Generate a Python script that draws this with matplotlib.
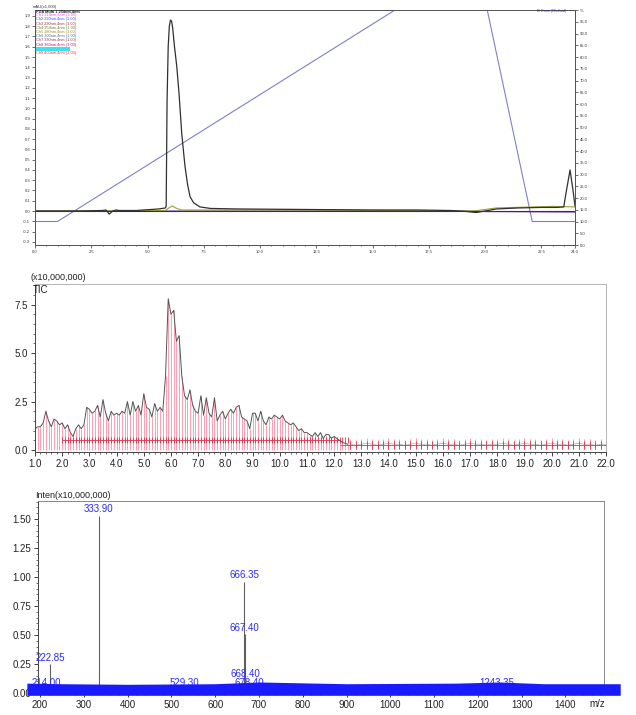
import numpy as np
import matplotlib
matplotlib.use("Agg")
import matplotlib.pyplot as plt
from matplotlib.ticker import MultipleLocator

plt.rcParams['font.family'] = ['Liberation Sans', 'DejaVu Sans']

# ---------------- Top panel: PDA chromatogram ----------------
lc_time = [0.0, 1.0, 2.0, 3.0, 3.15, 3.3, 3.45, 3.6, 3.75, 4.5, 5.5, 5.8, 5.83, 5.87, 5.92,
           5.97, 6.02, 6.07, 6.12, 6.2, 6.3, 6.4, 6.52, 6.6, 6.67, 6.78, 6.89, 7.05, 7.33,
           7.8, 9.0, 12.0, 15.0, 17.0, 18.5, 19.2, 19.6, 20.0, 20.5, 21.5, 22.5, 23.2, 23.5,
           23.62, 23.78, 23.9, 24.0]
lc_main = [0.0, 0.0, 0.0, 0.005, 0.01, -0.03, 0.0, 0.01, 0.005, 0.005, 0.02, 0.03, 0.05,
           1.08, 1.6, 1.8, 1.86, 1.85, 1.78, 1.6, 1.41, 1.15, 0.76, 0.58, 0.43, 0.26, 0.14,
           0.08, 0.04, 0.025, 0.02, 0.015, 0.01, 0.01, 0.005, -0.005, -0.015, 0.0, 0.02,
           0.03, 0.035, 0.035, 0.04, 0.2, 0.4, 0.22, 0.05]
lc2_time = [0.0, 5.8, 5.95, 6.1, 6.25, 6.5, 12.0, 19.5, 20.5, 23.0, 24.0]
lc2_vals = [0.0, 0.005, 0.03, 0.05, 0.03, 0.01, 0.01, 0.0, 0.03, 0.045, 0.04]
lc3_time = [0.0, 19.0, 20.0, 24.0]
lc3_vals = [0.0, 0.0, -0.005, -0.01]
grad_time = [0.0, 1.0, 16.0, 20.1, 22.1, 24.0]
grad_b = [10, 10, 100, 100, 10, 10]
lc_xticks = [0.0, 2.5, 5.0, 7.5, 10.0, 12.5, 15.0, 17.5, 20.0, 22.5, 24.0]
lc_yticks = [-0.3, -0.2, -0.1, 0.0, 0.1, 0.2, 0.3, 0.4, 0.5, 0.6, 0.7, 0.8, 0.9, 1.0,
             1.1, 1.2, 1.3, 1.4, 1.5, 1.6, 1.7, 1.8, 1.9]
pct_ticks = [0, 5, 10, 15, 20, 25, 30, 35, 40, 45, 50, 55, 60, 65, 70, 75, 80, 85, 90, 95, 100]
legend_lines = ["PDA Multi 1 254nm,4nm", "Ch1 214nm,4nm (1.00)", "Ch2 220nm,4nm (1.00)",
                "Ch3 230nm,4nm (1.00)", "Ch4 254nm,4nm (1.00)", "Ch5 280nm,4nm (1.00)",
                "Ch6 300nm,4nm (1.00)", "Ch7 330nm,4nm (1.00)", "Ch8 360nm,4nm (1.00)",
                "                              ", "Ch9 400nm,4nm (1.00)"]
legend_colors = ["#222222", "#ff40ff", "#3050ff", "#a03030", "#608030", "#b08020",
                 "#407090", "#903060", "#b02050", "#40e0f0", "#ff3030"]

# ---------------- Middle panel: TIC ----------------
tic_vals_a = [1.1, 1.2, 1.2, 1.4, 2.0, 1.5, 1.2, 1.6, 1.5, 1.3,
              1.4, 1.1, 1.3, 0.9, 0.7, 1.1, 1.3, 1.1, 1.3, 2.2,
              2.1, 1.9, 2.0, 2.3, 1.7, 2.6, 1.9, 1.5, 2.0, 1.8,
              1.9, 1.8, 2.0, 1.9, 2.5, 1.8, 2.5, 2.0, 2.3, 1.8,
              2.9, 2.2, 2.1, 1.7, 2.4, 2.0, 2.2, 2.0, 3.8, 7.8,
              7.0, 7.2, 5.6, 5.9, 3.8, 2.8, 2.6, 3.1, 2.3, 2.0,
              1.9, 2.8, 1.8, 2.7, 1.9, 1.7, 2.7, 1.5, 1.8, 2.0,
              1.6, 1.9, 2.1, 1.9, 2.2, 2.3, 1.7, 1.6, 1.5, 1.1,
              1.9, 1.9, 1.5, 2.0, 1.5, 1.3, 1.7, 1.6, 1.8, 1.7,
              1.6, 1.8, 1.5, 1.4, 1.3, 1.4, 1.2, 1.0, 1.1, 0.9,
              0.9, 0.8, 0.7, 0.9, 0.7, 0.9, 0.6, 0.8, 0.8, 0.6,
              0.7, 0.6, 0.5, 0.4, 0.35, 0.3]
tic_vals_b = [0.3, 0.25, 0.3, 0.35, 0.3, 0.25, 0.3, 0.35, 0.3, 0.3,
              0.25, 0.3, 0.35, 0.3, 0.3, 0.25, 0.3, 0.35, 0.3, 0.3,
              0.25, 0.3, 0.35, 0.3, 0.3, 0.25, 0.3, 0.3, 0.35, 0.3,
              0.25, 0.3, 0.35, 0.3, 0.3, 0.25, 0.3, 0.35, 0.3, 0.3,
              0.25, 0.3, 0.35, 0.3, 0.3, 0.25, 0.3, 0.3]
tic_time_a = np.round(np.arange(1.0, 12.55, 0.1), 2)
tic_time_b = np.round(np.arange(12.6, 22.05, 0.2), 2)
tic_mark_level = [0.5, 0.28]
tic_xticks = [float(v) for v in range(1, 23)]
tic_yticks = [0.0, 2.5, 5.0, 7.5]

# ---------------- Bottom panel: mass spectrum ----------------
ms_mz = [222.85, 333.90, 666.35, 667.40, 668.40]
ms_int = [0.25, 1.53, 0.96, 0.51, 0.11]
ms_minor_mz = [214.00, 529.30, 678.40, 1243.35]
ms_minor_int = [0.035, 0.035, 0.03, 0.035]
noise_mz = [170, 250, 400, 600, 700, 900, 1150, 1250, 1350, 1525]
noise_top = [0.085, 0.08, 0.075, 0.08, 0.095, 0.08, 0.085, 0.095, 0.08, 0.08]
ms_xticks = [200, 300, 400, 500, 600, 700, 800, 900, 1000, 1100, 1200, 1300, 1400]
ms_yticks = [0.0, 0.25, 0.5, 0.75, 1.0, 1.25, 1.5]

W, H = 636, 715
fig = plt.figure(figsize=(6.36, 7.15), dpi=100)


def fx(px):
    return px / W


def fy(py):
    return 1 - py / H


# ===== Top panel =====
ax1 = fig.add_axes([fx(35), fy(245), fx(540), 235 / H])
ax1.set_xlim(0, 24)
ax1.set_ylim(-0.331, 1.958)
ax1r = ax1.twinx()
ax1r.set_ylim(0, 100)
ax1r.plot(grad_time, grad_b, color="#8080c4", lw=0.8, zorder=1)
ax1.plot(lc3_time, lc3_vals, color="#7030a0", lw=0.8)
ax1.plot(lc2_time, lc2_vals, color="#a0a030", lw=0.8)
ax1.plot(lc_time, lc_main, color="#303030", lw=0.9)
ax1.axhline(0.0, color="#2a2a80", lw=0.8)
ax1.set_zorder(ax1r.get_zorder() + 1)
ax1.patch.set_visible(False)
ax1.set_xticks(lc_xticks)
ax1.set_xticklabels([f"{v:.1f}" for v in lc_xticks])
ax1.set_yticks(lc_yticks)
ax1.set_yticklabels([f"{v:.1f}" for v in lc_yticks])
ax1r.set_yticks(pct_ticks)
ax1r.set_yticklabels([f"{v:.1f}" for v in pct_ticks[:-1]] + ["%"])
for a in (ax1, ax1r):
    a.tick_params(labelsize=3, length=2, width=0.5, pad=1.5, colors="#333333")
    for s in a.spines.values():
        s.set_color("#555555")
        s.set_linewidth(0.7)
ax1.xaxis.set_minor_locator(MultipleLocator(0.5))
ax1.tick_params(which="minor", length=1, width=0.4)
fig.text(fx(33), fy(7), "mAU(x1,000)", fontsize=3, color="#333333", va="center")
for i, (t, c) in enumerate(zip(legend_lines, legend_colors)):
    kw = {}
    if c == "#40e0f0":
        kw = dict(bbox=dict(facecolor=c, edgecolor="none", pad=0.2))
    fig.text(fx(36), fy(11 + i * 4.2), t, fontsize=2.8, color=c,
             va="center", weight="bold" if i == 0 else "normal", **kw)
fig.text(fx(566), fy(11), "B Conc.(Method)", fontsize=2.8, color="#333388", va="center", ha="right")

# ===== Middle panel =====
ax2 = fig.add_axes([fx(35), fy(452), fx(571), 168 / H])
ax2.set_xlim(1.0, 22.0)
ax2.set_ylim(-0.1, 8.56)
ax2.vlines(tic_time_a, 0, tic_vals_a, color="#ff6f8f", lw=0.55, alpha=0.85)
ax2.vlines(tic_time_b, 0.05, np.array(tic_vals_b) + 0.25, color="#ff6f8f", lw=0.55, alpha=0.85)
ax2.hlines(tic_mark_level[0], 2.0, 12.2, color="#e0304a", lw=0.6)
ax2.hlines(tic_mark_level[1], 12.2, 22.0, color="#e0304a", lw=0.6)
sel_a = tic_time_a >= 2.0
ax2.plot(tic_time_a[sel_a], [tic_mark_level[0]] * int(sel_a.sum()), ls="none", marker="|",
         ms=5, mew=0.6, color="#e0304a")
ax2.plot(tic_time_b, [tic_mark_level[1]] * len(tic_time_b), ls="none", marker="|",
         ms=6, mew=0.6, color="#e0304a")
ax2.plot(tic_time_a, tic_vals_a, color="#555555", lw=0.7)
ax2.plot(tic_time_b, tic_vals_b, color="#777777", lw=0.5, alpha=0.6)
ax2.set_xticks(tic_xticks)
ax2.set_xticklabels([f"{v:.1f}" for v in tic_xticks])
ax2.set_yticks(tic_yticks)
ax2.set_yticklabels([f"{v:.1f}" for v in tic_yticks])
ax2.xaxis.set_minor_locator(MultipleLocator(0.2))
ax2.yaxis.set_minor_locator(MultipleLocator(0.5))
ax2.tick_params(labelsize=7, length=3, width=0.6, pad=2, colors="#222222")
ax2.tick_params(which="minor", length=1.5, width=0.4)
for k in ("top", "right"):
    ax2.spines[k].set_color("#b5b5b5")
    ax2.spines[k].set_linewidth(0.7)
for k in ("left", "bottom"):
    ax2.spines[k].set_color("#444444")
    ax2.spines[k].set_linewidth(0.7)
fig.text(fx(30), fy(278), "(x10,000,000)", fontsize=6.5, color="#222222", va="center",
         bbox=dict(facecolor="white", edgecolor="none", pad=0.5))
fig.text(fx(33), fy(290), "TIC", fontsize=7, color="#222222", va="center")

# ===== Bottom panel =====
ax3 = fig.add_axes([fx(38), fy(693), fx(566), 192 / H])
ax3.set_xlim(195.4, 1488)
ax3.set_ylim(0, 1.655)
ax3.fill_between(noise_mz, -0.02, noise_top, color="#1a1aff", lw=0, clip_on=False, zorder=3)
ax3.vlines(ms_mz, 0, ms_int, color="#606060", lw=0.8, zorder=2)
for m, v in zip(ms_mz, ms_int):
    ax3.text(m, v + 0.01, f"{m:.2f}", ha="center", va="bottom", fontsize=7,
             color="#2a2aff", zorder=4, clip_on=False)
for m, v in zip(ms_minor_mz, ms_minor_int):
    ax3.text(m, v + 0.01, f"{m:.2f}", ha="center", va="bottom", fontsize=7,
             color="#2a2aff", zorder=2.5, clip_on=False)
ax3.set_xticks(ms_xticks)
ax3.set_xticklabels([str(v) for v in ms_xticks])
ax3.set_yticks(ms_yticks)
ax3.set_yticklabels([f"{v:.2f}" for v in ms_yticks])
ax3.xaxis.set_minor_locator(MultipleLocator(20))
ax3.yaxis.set_minor_locator(MultipleLocator(0.05))
ax3.tick_params(labelsize=7, length=3, width=0.6, pad=2, colors="#222222")
ax3.tick_params(which="minor", length=1.5, width=0.4)
for k in ("top", "right"):
    ax3.spines[k].set_color("#888888")
    ax3.spines[k].set_linewidth(0.7)
for k in ("left", "bottom"):
    ax3.spines[k].set_color("#444444")
    ax3.spines[k].set_linewidth(0.7)
ax3.text(0.988, -0.03, "m/z", transform=ax3.transAxes, ha="center", va="top", fontsize=7,
         color="#222222")
fig.text(fx(35), fy(495), "Inten(x10,000,000)", fontsize=6.5, color="#222222", va="center",
         bbox=dict(facecolor="white", edgecolor="none", pad=0.5))

fig.savefig("out.png", dpi=100)
